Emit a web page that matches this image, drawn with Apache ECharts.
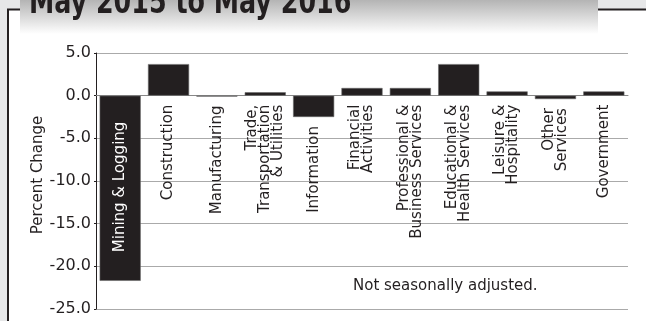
<!DOCTYPE html>
<html>
<head>
<meta charset="utf-8">
<title>Percent change by industry, May 2015 to May 2016</title>
<script src="https://cdn.jsdelivr.net/npm/echarts@6/dist/echarts.min.js"></script>
<style>
  html, body { margin: 0; padding: 0; background: #e6e7e8; }
  #chart { width: 646px; height: 321px; }
</style>
</head>
<body>
<div id="chart"></div>
<script>
// Industry sectors (rotated labels, multi-line where the name wraps)
const categories = [
  'Mining & Logging',
  'Construction',
  'Manufacturing',
  'Trade,\nTransportation\n& Utilities',
  'Information',
  'Financial\nActivities',
  'Professional &\nBusiness Services',
  'Educational &\nHealth Services',
  'Leisure &\nHospitality',
  'Other\nServices',
  'Government'
];

// Over-the-year percent change in employment
const percentChange = [-21.7, 3.7, -0.1, 0.4, -2.5, 0.9, 0.9, 3.7, 0.5, -0.4, 0.5];

// Value-axis ticks
const yTicks = [-25, -20, -15, -10, -5, 0, 5];

const titleText = 'May 2015 to May 2016';
const noteText = 'Not seasonally adjusted.';

const ink = '#231f20';
const labelFont = '"DejaVu Sans", sans-serif';

// Sector names hang below the zero line, or below a shallow negative bar;
// a deep bar carries its name inside, in white.
const DEEP = -5;
const labelAnchor = percentChange.map(v => (v < 0 && v > DEEP) ? v : 0);
const labelItems = labelAnchor.map((v, i) => percentChange[i] <= DEEP
  ? { value: v, label: { color: '#ffffff', distance: 26 } }
  : v);

const chart = echarts.init(document.getElementById('chart'), null, { renderer: 'canvas' });

chart.setOption({
  backgroundColor: '#e6e7e8',
  animation: false,
  grid: { left: 96, right: 18, top: 53, bottom: 12, outerBoundsMode: 'none', containLabel: false },
  xAxis: {
    type: 'category',
    data: categories,
    axisLine: { show: true, onZero: true, lineStyle: { color: '#888', width: 1 } },
    axisTick: { show: false },
    axisLabel: { show: false },
    splitLine: { show: false }
  },
  yAxis: {
    type: 'value',
    min: yTicks[0],
    max: yTicks[yTicks.length - 1],
    interval: yTicks[1] - yTicks[0],
    name: 'Percent Change',
    nameLocation: 'middle',
    nameRotate: 90,
    nameGap: 50,
    nameMoveOverlap: false,
    nameTextStyle: { color: ink, fontFamily: labelFont, fontSize: 15, padding: [0, 0, 0, 12] },
    axisLine: { show: true, lineStyle: { color: ink, width: 1 } },
    axisTick: { show: true, length: 2, lineStyle: { color: ink } },
    axisLabel: {
      margin: 5,
      color: ink,
      fontFamily: labelFont,
      fontSize: 16,
      formatter: v => v.toFixed(1)
    },
    splitLine: { show: true, lineStyle: { color: '#aaaaaa', width: 1 } }
  },
  series: [
    {
      type: 'bar',
      data: percentChange,
      barWidth: '85%',
      itemStyle: { color: ink, borderColor: '#6a6a6a', borderWidth: 0.6 },
      z: 3
    },
    {
      // carrier for the sector names, reading upward
      type: 'bar',
      data: labelItems,
      barWidth: '85%',
      barGap: '-100%',
      silent: true,
      itemStyle: { color: 'rgba(0,0,0,0)' },
      z: 4,
      label: {
        show: true,
        position: 'bottom',
        distance: 9,
        rotate: 90,
        align: 'right',
        verticalAlign: 'middle',
        formatter: p => categories[p.dataIndex],
        color: ink,
        fontFamily: labelFont,
        fontSize: 15,
        lineHeight: 13
      },
      labelLayout: { hideOverlap: false }
    }
  ],
  graphic: [
    // white panel inside the frame
    { type: 'rect', z: -10, silent: true,
      shape: { x: 9, y: 10, width: 637, height: 311 },
      style: { fill: '#ffffff' } },
    // frame: left and top rules
    { type: 'line', z: -5, silent: true,
      shape: { x1: 8, y1: 9, x2: 8, y2: 321 },
      style: { stroke: ink, lineWidth: 2 } },
    { type: 'line', z: -5, silent: true,
      shape: { x1: 7, y1: 9.5, x2: 646, y2: 9.5 },
      style: { stroke: ink, lineWidth: 2 } },
    // title band with a grey-to-white fade
    { type: 'rect', z: -4, silent: true,
      shape: { x: 20, y: 0, width: 578, height: 34 },
      style: {
        fill: new echarts.graphic.LinearGradient(0, 0, 0, 1, [
          { offset: 0, color: '#b4b4b4' },
          { offset: 1, color: '#ffffff' }
        ])
      } },
    { type: 'text', z: 10, silent: true, x: 29, y: -13, scaleX: 0.83,
      style: {
        text: titleText,
        font: 'bold 34px "DejaVu Sans Condensed", "DejaVu Sans", sans-serif',
        fill: ink
      } },
    // footnote inside the plot
    { type: 'text', z: 10, silent: true, left: 353, top: 279,
      style: {
        text: noteText,
        font: '15px "DejaVu Sans", sans-serif',
        fill: ink
      } }
  ]
});
</script>
</body>
</html>
